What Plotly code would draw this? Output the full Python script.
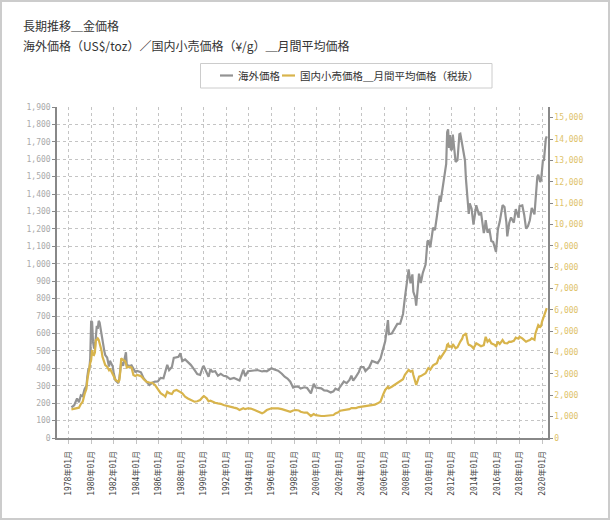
import plotly.graph_objects as go

# ---- data ----
dates = [
 "1978-04","1978-07","1978-10","1978-12","1979-02","1979-04","1979-06","1979-08","1979-09","1979-10",
 "1979-11","1979-12","1980-01","1980-02","1980-03","1980-04","1980-05","1980-06","1980-07","1980-08",
 "1980-09","1980-10","1980-11","1980-12","1981-01","1981-03","1981-04","1981-06","1981-08","1981-09",
 "1981-12","1982-01","1982-03","1982-06","1982-07","1982-08","1982-09","1982-11","1983-01","1983-02",
 "1983-03","1983-06","1983-08","1983-10","1983-12","1984-02","1984-06","1984-09","1984-12","1985-03",
 "1985-06","1985-09","1985-12","1986-03","1986-06","1986-08","1986-10","1986-12","1987-03","1987-05",
 "1987-08","1987-10","1987-12","1988-02","1988-05","1988-08","1988-11","1989-03","1989-06","1989-09",
 "1989-12","1990-01","1990-04","1990-06","1990-08","1990-10","1991-01","1991-04","1991-07","1991-10",
 "1992-01","1992-05","1992-09","1992-12","1993-03","1993-07","1993-09","1993-12","1994-03","1994-07",
 "1994-10","1995-03","1995-05","1995-08","1996-01","1996-04","1996-08","1996-12","1997-03","1997-06",
 "1997-09","1997-12","1998-03","1998-06","1998-08","1998-12","1999-03","1999-07","1999-10","1999-12",
 "2000-03","2000-06","2000-09","2000-12","2001-04","2001-07","2001-09","2001-12","2002-02","2002-06",
 "2002-09","2002-12","2003-02","2003-04","2003-07","2003-10","2003-12","2004-03","2004-05","2004-09",
 "2004-12","2005-03","2005-06","2005-09","2005-12","2006-02","2006-05","2006-06","2006-09","2006-12",
 "2007-03","2007-06","2007-09","2007-11","2008-01","2008-03","2008-05","2008-07","2008-08","2008-10",
 "2008-11","2008-12","2009-02","2009-04","2009-06","2009-09","2009-11","2009-12","2010-02","2010-05",
 "2010-07","2010-09","2010-11","2010-12","2011-01","2011-03","2011-05","2011-07","2011-08","2011-09",
 "2011-10","2011-11","2011-12","2012-01","2012-02","2012-03","2012-05","2012-07","2012-09","2012-10",
 "2012-12","2013-01","2013-03","2013-04","2013-06","2013-07","2013-08","2013-10","2013-12","2014-03",
 "2014-06","2014-08","2014-11","2014-12","2015-01","2015-03","2015-05","2015-07","2015-09","2015-11",
 "2015-12","2016-02","2016-04","2016-07","2016-09","2016-11","2016-12","2017-02","2017-04","2017-07",
 "2017-09","2017-12","2018-01","2018-04","2018-06","2018-08","2018-10","2018-12","2019-02","2019-05",
 "2019-06","2019-07","2019-08","2019-09","2019-11","2019-12","2020-01","2020-02","2020-03","2020-04",
 "2020-05","2020-06",
]

overseas_usd_toz = [
 176,188,227,205,245,240,280,300,355,392,
 392,456,673,665,553,517,514,600,644,627,
 673,662,623,595,557,500,476,462,410,443,
 410,371,330,315,342,380,436,414,481,492,
 419,413,417,395,380,385,377,341,320,304,
 317,324,325,345,343,375,420,390,408,460,
 462,466,486,442,451,437,420,391,367,362,
 409,410,375,352,395,380,383,357,368,357,
 354,338,345,335,330,392,355,383,385,386,
 390,382,385,383,400,393,386,369,352,341,
 323,289,296,293,284,291,287,256,311,290,
 286,285,273,272,261,268,283,276,294,324,
 315,333,358,329,352,379,407,407,384,406,
 442,434,430,456,510,555,677,596,600,629,
 655,656,712,806,889,968,888,939,839,807,
 760,816,943,890,946,996,1128,1134,1095,1207,
 1193,1270,1370,1391,1356,1424,1510,1573,1756,1772,
 1665,1739,1652,1656,1742,1673,1585,1594,1744,1747,
 1688,1670,1593,1487,1342,1286,1347,1316,1225,1336,
 1279,1296,1176,1201,1251,1179,1199,1131,1125,1086,
 1068,1199,1242,1337,1326,1238,1157,1234,1266,1236,
 1314,1265,1331,1335,1282,1202,1215,1250,1320,1284,
 1359,1413,1500,1511,1470,1480,1560,1598,1591,1683,
 1716,1732,
]

domestic_jpy_g = [
 1343,1380,1420,1420,1590,1700,2050,2300,2750,3030,
 3200,3500,3650,4118,3900,3880,4000,4586,4600,4665,
 4600,4450,4352,4100,3806,3500,3416,3337,3182,3250,
 3000,2948,2714,2635,2700,3100,3730,3650,3600,3500,
 3300,3337,3300,2948,2900,2948,2900,2750,2635,2600,
 2588,2480,2300,2100,2012,1933,2167,2100,2059,2200,
 2246,2214,2150,2092,1933,1850,1778,1699,1720,1778,
 1933,1966,1858,1720,1750,1699,1652,1620,1600,1544,
 1500,1465,1420,1390,1310,1390,1350,1390,1380,1310,
 1250,1156,1200,1310,1390,1400,1390,1350,1310,1270,
 1231,1290,1310,1290,1231,1184,1184,1030,1123,1070,
 1040,1030,1030,1040,1076,1076,1150,1200,1278,1300,
 1310,1350,1400,1390,1400,1450,1465,1470,1480,1500,
 1544,1560,1623,1700,2050,2250,2400,2330,2400,2486,
 2550,2640,2750,2955,3100,3190,3110,3150,2950,2600,
 2486,2600,2875,2900,2950,3035,3200,3270,3200,3400,
 3450,3500,3750,3815,3750,3900,4050,4150,4360,4400,
 4250,4300,4280,4250,4400,4350,4200,4250,4450,4515,
 4650,4800,4850,4910,4450,4360,4350,4300,4198,4432,
 4352,4300,4350,4600,4741,4507,4600,4432,4400,4350,
 4273,4507,4400,4586,4450,4430,4432,4507,4500,4550,
 4700,4650,4741,4665,4600,4507,4550,4586,4665,4600,
 4898,5050,5213,5290,5200,5250,5450,5603,5650,5900,
 6000,6080,
]

series_names = ["海外価格", "国内小売価格＿月間平均価格（税抜）"]
title_lines = ["長期推移＿金価格", "海外価格（US$/toz）／国内小売価格（¥/g）＿月間平均価格"]

# ---- layout geometry (pixels of the 610x520 page) ----
W, H = 610, 520
L, R, T, B = 57, 62, 107, 82
PW, PH = W - L - R, H - T - B

def px(x):
    return (x - L) / PW

def py(y):
    return (H - B - y) / PH

GRAY = "#939393"
GOLD = "#d8b44c"
MONO = "DejaVu Sans Mono, Noto Sans CJK JP"
CJK = "Noto Sans CJK JP"

fig = go.Figure()
fig.add_trace(go.Scatter(x=dates, y=overseas_usd_toz, name=series_names[0], mode="lines",
                         line=dict(color=GRAY, width=2.2), yaxis="y"))
fig.add_trace(go.Scatter(x=dates, y=domestic_jpy_g, name=series_names[1], mode="lines",
                         line=dict(color=GOLD, width=2.2), yaxis="y2"))

# legend drawn as a framed box with short line keys (matching the reference's compact legend)
legend_y = 75.5
legend_items = [(220, 233, 236, GRAY, series_names[0]), (282, 295, 298, GOLD, series_names[1])]
shapes = [
    dict(type="rect", xref="paper", yref="paper", x0=px(1), x1=px(609), y0=py(1), y1=py(519),
         line=dict(color="#cccccc", width=2), fillcolor="rgba(0,0,0,0)", layer="below"),
    dict(type="rect", xref="paper", yref="paper", x0=px(200.5), x1=px(492), y0=py(63.5), y1=py(88),
         line=dict(color="#cccccc", width=1), fillcolor="rgba(0,0,0,0)"),
]
annotations = [
    dict(text=title_lines[0], xref="paper", yref="paper", x=px(21), y=py(25),
         xanchor="left", yanchor="middle", showarrow=False,
         font=dict(size=12, color="#333333", family=CJK)),
    dict(text=title_lines[1], xref="paper", yref="paper", x=px(21), y=py(45),
         xanchor="left", yanchor="middle", showarrow=False,
         font=dict(size=12, color="#333333", family=CJK)),
]
for x0, x1, tx, col, name in legend_items:
    shapes.append(dict(type="line", xref="paper", yref="paper", x0=px(x0), x1=px(x1),
                       y0=py(legend_y), y1=py(legend_y), line=dict(color=col, width=2.2)))
    annotations.append(dict(text=name, xref="paper", yref="paper", x=px(tx), y=py(legend_y),
                            xanchor="left", yanchor="middle", showarrow=False,
                            font=dict(size=10.5, color="#333333", family=CJK)))

fig.update_layout(
    width=W, height=H,
    margin=dict(l=L, r=R, t=T, b=B, pad=0),
    paper_bgcolor="white", plot_bgcolor="white",
    font=dict(family=CJK, color="#333333"),
    showlegend=False,
    xaxis=dict(
        type="date", range=["1976-12-20", "2020-07-12"],
        tick0="1978-01-01", dtick="M24", tickformat="%Y年%m月", tickangle=-90,
        tickfont=dict(family=MONO, size=8, color="#444444"),
        showgrid=True, gridcolor="#c4c4c4", griddash="3px,3px", gridwidth=1,
        showline=True, linecolor="#888888", linewidth=1.5,
        ticks="outside", ticklen=4, tickcolor="#c4c4c4", ticklabelstandoff=4,
        zeroline=False, fixedrange=True,
    ),
    yaxis=dict(
        range=[0, 1900], dtick=100, tick0=0, tickformat=",d",
        tickfont=dict(family=MONO, size=8, color="#aaaaaa"),
        showgrid=True, gridcolor="#c4c4c4", griddash="3px,3px", gridwidth=1,
        showline=True, linecolor="#888888", linewidth=1.5,
        ticks="outside", ticklen=3, tickcolor="#888888",
        zeroline=False,
    ),
    yaxis2=dict(
        range=[0, 15500], dtick=1000, tick0=0, tickformat=",d",
        overlaying="y", side="right",
        tickfont=dict(family=MONO, size=8, color="#e0c36a"),
        showgrid=False,
        showline=True, linecolor="#888888", linewidth=1.5,
        ticks="outside", ticklen=3, tickcolor="#888888",
        zeroline=False,
    ),
    shapes=shapes,
    annotations=annotations,
)

fig.write_html("out.html", config={"displayModeBar": False},
               post_script="document.body.style.margin='0px';document.body.style.overflow='hidden';")
